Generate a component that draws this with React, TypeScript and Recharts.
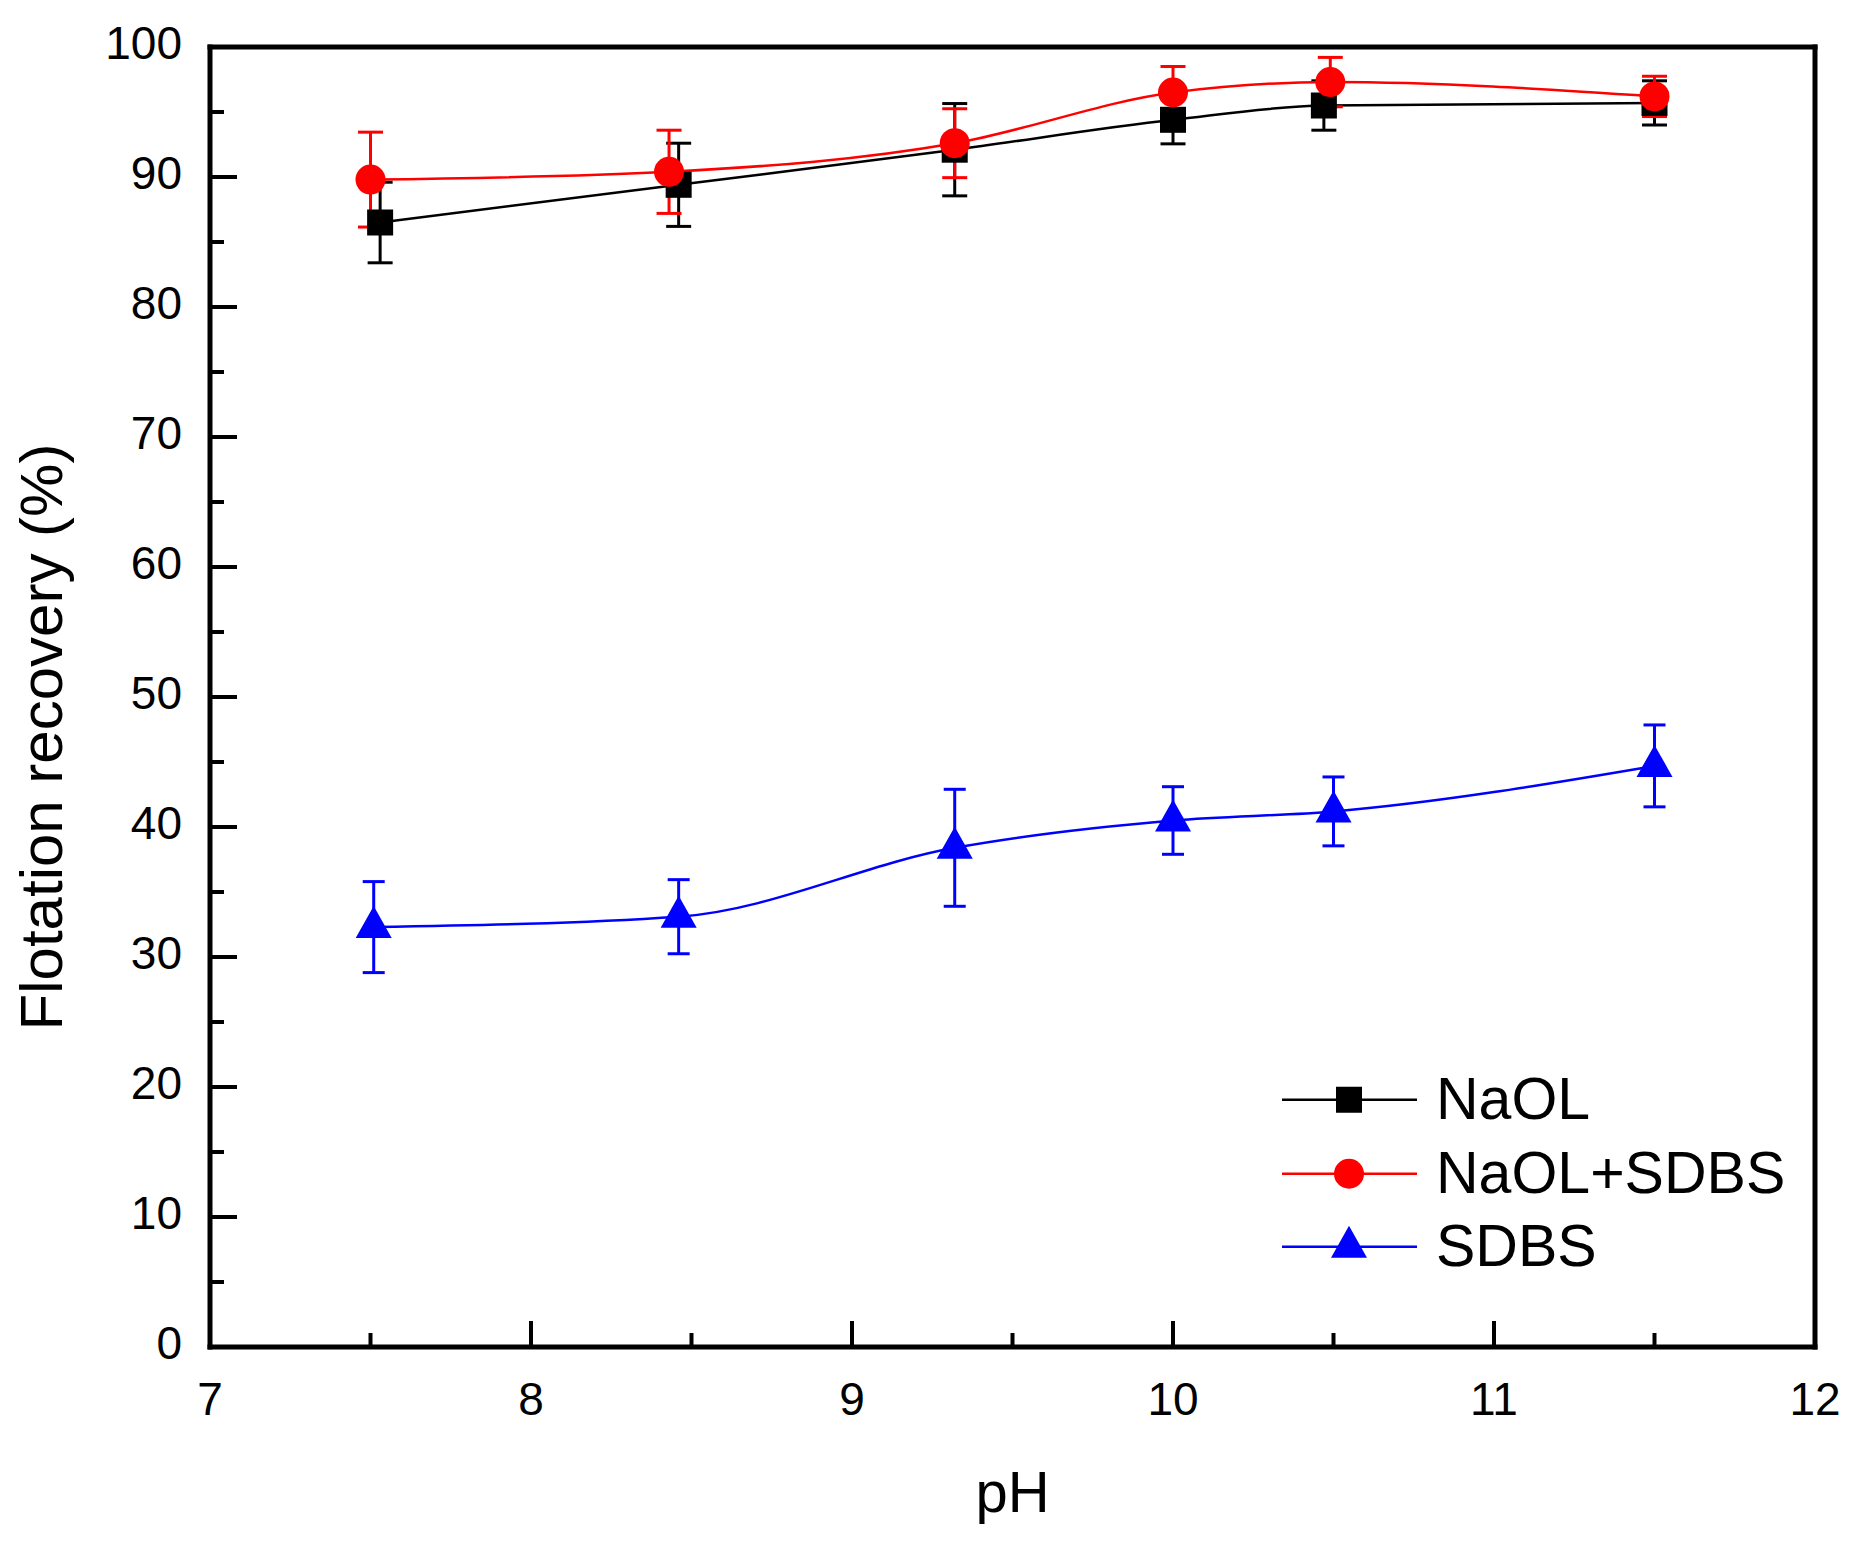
import { LineChart, Line, XAxis, YAxis, ErrorBar, Legend, Label, ReferenceLine } from "recharts";

const FONT = "'Liberation Sans', Arial, sans-serif";

// pH, recovery (%) and error
const NAOL_PH = [7.53, 8.46, 9.32, 10.0, 10.47, 11.5];
const NAOL_REC = [86.5, 89.4, 92.1, 94.4, 95.5, 95.7];
const NAOL_ERR = [3.1, 3.2, 3.55, 1.85, 1.9, 1.7];

const MIX_PH = [7.5, 8.43, 9.32, 10.0, 10.49, 11.5];
const MIX_REC = [89.8, 90.4, 92.6, 96.5, 97.3, 96.2];
const MIX_ERR = [3.65, 3.2, 2.65, 2.0, 1.9, 1.55];

const SDBS_PH = [7.51, 8.46, 9.32, 10.0, 10.5, 11.5];
const SDBS_REC = [32.3, 33.1, 38.4, 40.5, 41.2, 44.7];
const SDBS_ERR = [3.5, 2.85, 4.5, 2.6, 2.65, 3.15];

const X_TICKS = [7, 7.5, 8, 8.5, 9, 9.5, 10, 10.5, 11, 11.5, 12];
const Y_TICKS = [0, 5, 10, 15, 20, 25, 30, 35, 40, 45, 50, 55, 60, 65, 70, 75, 80, 85, 90, 95, 100];
const X_MAX = 12;
const Y_MAX = 100;

const zip = (ph: number[], rec: number[], err: number[]) =>
  ph.map((p, i) => ({ ph: p, rec: rec[i], err: err[i] }));

const naol = zip(NAOL_PH, NAOL_REC, NAOL_ERR);
const mix = zip(MIX_PH, MIX_REC, MIX_ERR);
const sdbs = zip(SDBS_PH, SDBS_REC, SDBS_ERR);

const Square = ({ cx, cy }: any) =>
  cx == null ? null : <rect x={cx - 13} y={cy - 13} width={26} height={26} fill="#000" />;
const Circle = ({ cx, cy }: any) =>
  cx == null ? null : <circle cx={cx} cy={cy} r={15} fill="#FF0000" />;
const Triangle = ({ cx, cy }: any) =>
  cx == null ? null : (
    <polygon points={`${cx},${cy - 21} ${cx + 18},${cy + 11} ${cx - 18},${cy + 11}`} fill="#0000FF" />
  );

const SERIES = [
  { name: "NaOL", color: "#000000", Marker: Square },
  { name: "NaOL+SDBS", color: "#FF0000", Marker: Circle },
  { name: "SDBS", color: "#0000FF", Marker: Triangle },
];

function YTick({ x, y, payload }: any) {
  const v = payload.value;
  const major = v % 10 === 0;
  return (
    <g>
      <line x1={x} x2={x + (major ? 27 : 14)} y1={y} y2={y} stroke="#000" strokeWidth={4} />
      {major && (
        <text x={x - 28} y={y + 11.5} textAnchor="end" fontSize={46} fontFamily={FONT} fill="#000">
          {v}
        </text>
      )}
    </g>
  );
}

function XTick({ x, y, payload }: any) {
  const v = payload.value;
  const major = Number.isInteger(v);
  return (
    <g>
      <line x1={x} x2={x} y1={y} y2={y - (major ? 26 : 14)} stroke="#000" strokeWidth={4} />
      {major && (
        <text x={x} y={y + 68} textAnchor="middle" fontSize={46} fontFamily={FONT} fill="#000">
          {v}
        </text>
      )}
    </g>
  );
}

function YTitle({ viewBox }: any) {
  const cx = viewBox.x + 62;
  const cy = viewBox.y + viewBox.height / 2 + 40;
  return (
    <text x={cx} y={cy} transform={`rotate(-90 ${cx} ${cy})`} textAnchor="middle" fontSize={60} fontFamily={FONT} fill="#000">
      Flotation recovery (%)
    </text>
  );
}

function XTitle({ viewBox }: any) {
  return (
    <text x={viewBox.x + viewBox.width / 2} y={viewBox.y + 165} textAnchor="middle" fontSize={58} fontFamily={FONT} fill="#000">
      pH
    </text>
  );
}

function LegendBox() {
  return (
    <div style={{ fontFamily: FONT }}>
      {SERIES.map(({ name, color, Marker }) => (
        <div key={name} style={{ display: "flex", alignItems: "center", height: 73.5 }}>
          <svg width={135} height={73.5} style={{ display: "block" }}>
            <line x1={0} x2={135} y1={36.75} y2={36.75} stroke={color} strokeWidth={2.5} />
            <Marker cx={67} cy={36.75} />
          </svg>
          <span style={{ marginLeft: 19, fontSize: 59, lineHeight: "73.5px", color: "#000", whiteSpace: "nowrap" }}>
            {name}
          </span>
        </div>
      ))}
    </div>
  );
}

const axisLine = { stroke: "#000", strokeWidth: 5, strokeLinecap: "square" as const };

export default function App() {
  return (
    <div style={{ position: "absolute", left: 0, top: 0, background: "#fff" }}>
      <LineChart width={1858} height={1543} margin={{ top: 47, right: 43, bottom: 0, left: 0 }}>
        <XAxis
          dataKey="ph"
          type="number"
          domain={[7, X_MAX]}
          ticks={X_TICKS}
          interval={0}
          height={196}
          tickSize={0}
          tickMargin={0}
          tickLine={false}
          axisLine={axisLine}
          tick={(p: any) => <XTick {...p} />}
          allowDataOverflow
        >
          <Label content={XTitle} />
        </XAxis>
        <YAxis
          type="number"
          domain={[0, Y_MAX]}
          ticks={Y_TICKS}
          interval={0}
          width={210}
          tickSize={0}
          tickMargin={0}
          tickLine={false}
          axisLine={axisLine}
          tick={(p: any) => <YTick {...p} />}
          allowDataOverflow
        >
          <Label content={YTitle} />
        </YAxis>
        <ReferenceLine y={Y_MAX} stroke="#000" strokeWidth={5} strokeLinecap="square" />
        <ReferenceLine x={X_MAX} stroke="#000" strokeWidth={5} strokeLinecap="square" />
        <Line
          data={naol}
          dataKey="rec"
          name="NaOL"
          type="monotone"
          stroke="#000000"
          strokeWidth={2.5}
          dot={(p: any) => <Square key={`s${p.index}`} {...p} />}
          activeDot={false}
          isAnimationActive={false}
        >
          <ErrorBar dataKey="err" direction="y" width={12.5} stroke="#000000" strokeWidth={3} />
        </Line>
        <Line
          data={mix}
          dataKey="rec"
          name="NaOL+SDBS"
          type="monotone"
          stroke="#FF0000"
          strokeWidth={2.5}
          dot={(p: any) => <Circle key={`c${p.index}`} {...p} />}
          activeDot={false}
          isAnimationActive={false}
        >
          <ErrorBar dataKey="err" direction="y" width={12.5} stroke="#FF0000" strokeWidth={3} />
        </Line>
        <Line
          data={sdbs}
          dataKey="rec"
          name="SDBS"
          type="monotone"
          stroke="#0000FF"
          strokeWidth={2.5}
          dot={(p: any) => <Triangle key={`t${p.index}`} {...p} />}
          activeDot={false}
          isAnimationActive={false}
        >
          <ErrorBar dataKey="err" direction="y" width={11} stroke="#0000FF" strokeWidth={3} />
        </Line>
        <Legend
          layout="vertical"
          align="center"
          verticalAlign="middle"
          wrapperStyle={{ left: 1282, top: 1063, width: 560 }}
          content={() => <LegendBox />}
        />
      </LineChart>
    </div>
  );
}
